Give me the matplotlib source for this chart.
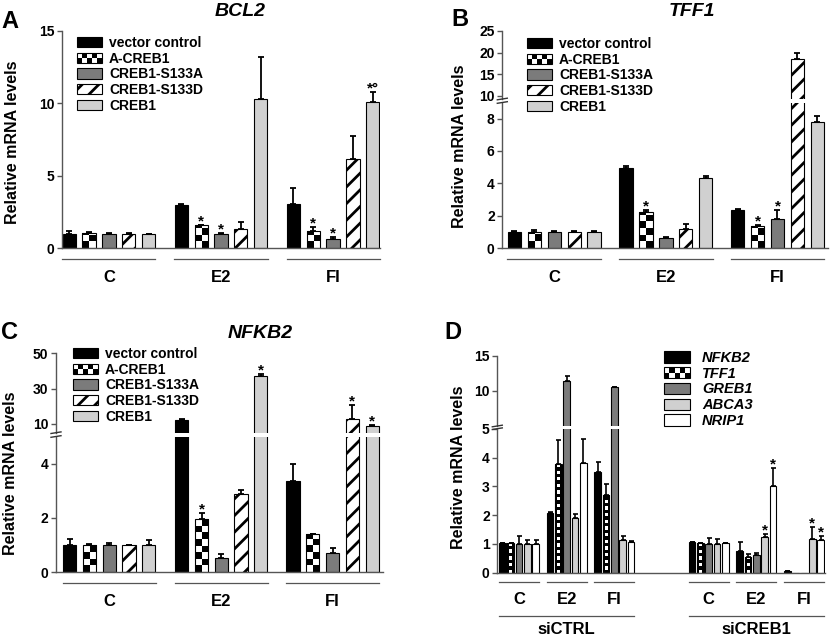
import numpy as np
import matplotlib
matplotlib.use("Agg")
import matplotlib.pyplot as plt
from matplotlib.patches import Patch, Rectangle
from matplotlib.lines import Line2D
from matplotlib.legend_handler import HandlerBase
from matplotlib.transforms import Bbox, TransformedBbox, blended_transform_factory

plt.rcParams['font.family'] = ['Liberation Sans', 'DejaVu Sans']
plt.rcParams['font.weight'] = 'bold'
plt.rcParams['hatch.linewidth'] = 2.0

# ---------------- data ----------------
groups = ['C', 'E2', 'FI']
constructs = ['vector control', 'A-CREB1', 'CREB1-S133A', 'CREB1-S133D', 'CREB1']

# rows = constructs, cols = C, E2, FI
bcl2_mean = [[0.99, 2.94, 3.06],
             [1.03, 1.56, 1.20],
             [0.97, 0.99, 0.60],
             [0.99, 1.33, 6.14],
             [0.97, 10.28, 10.08]]
bcl2_sem = [[0.16, 0.12, 1.08],
            [0.07, 0.02, 0.25],
            [0.06, 0.07, 0.14],
            [0.07, 0.44, 1.59],
            [0.00, 2.90, 0.69]]
bcl2_stars = [(1, 1, '*'), (2, 1, '*'), (1, 2, '*'), (2, 2, '*'), (4, 2, '*°')]

tff1_mean = [[0.99, 4.93, 2.35],
             [0.99, 2.23, 1.33],
             [0.99, 0.62, 1.78],
             [0.99, 1.18, 18.5],
             [0.99, 4.33, 7.80]]
tff1_sem = [[0.08, 0.14, 0.07],
            [0.14, 0.12, 0.07],
            [0.06, 0.04, 0.60],
            [0.06, 0.28, 1.50],
            [0.08, 0.12, 0.35]]
tff1_stars = [(1, 1, '*'), (1, 2, '*'), (2, 2, '*')]

nfkb2_mean = [[0.98, 12.0, 3.37],
              [1.01, 1.96, 1.41],
              [0.98, 0.52, 0.71],
              [0.98, 2.87, 12.8],
              [0.98, 37.4, 8.9]]
nfkb2_sem = [[0.24, 0.9, 0.63],
             [0.02, 0.23, 0.0],
             [0.09, 0.16, 0.18],
             [0.03, 0.16, 7.8],
             [0.19, 0.9, 0.7]]
nfkb2_stars = [(1, 1, '*'), (4, 1, '*'), (3, 2, '*'), (4, 2, '*')]

genes_d = ['NFKB2', 'TFF1', 'GREB1', 'ABCA3', 'NRIP1']
sirna = ['siCTRL', 'siCREB1']
# rows = genes, cols = C, E2, FI
d_ctrl_mean = [[1.03, 2.09, 3.49],
               [1.02, 3.78, 2.71],
               [1.00, 11.33, 10.5],
               [1.00, 1.90, 1.12],
               [1.00, 3.80, 1.07]]
d_ctrl_sem = [[0.00, 0.03, 0.36],
              [0.00, 0.82, 0.37],
              [0.28, 0.75, 0.08],
              [0.15, 0.13, 0.16],
              [0.13, 0.83, 0.03]]
d_creb_mean = [[1.06, 0.76, 0.07],
               [1.03, 0.53, 0.0],
               [1.00, 0.62, 0.0],
               [1.00, 1.23, 1.17],
               [1.02, 3.00, 1.12]]
d_creb_sem = [[0.00, 0.32, 0.0],
              [0.00, 0.11, 0.0],
              [0.20, 0.05, 0.0],
              [0.17, 0.12, 0.43],
              [0.00, 0.64, 0.16]]
# (group, gene, text) for siCREB1
d_stars = [(1, 3, '*'), (1, 4, '*'), (2, 3, '*'), (2, 4, '*')]

DARK = '#7b7b7b'
LIGHT = '#d0d0d0'
SPINE = '#555555'
construct_styles = [('solid', 'black'), ('checker', None), ('solid', DARK),
                    ('hatch', None), ('solid', LIGHT)]
gene_styles = [('solid', 'black'), ('checker', None), ('solid', DARK),
               ('solid', LIGHT), ('solid', 'white')]

W, H = 832, 635
fig = plt.figure(figsize=(W / 100, H / 100), dpi=100)


def px_axes(x0, x1, ytop, ybot):
    return fig.add_axes([x0 / W, 1 - ybot / H, (x1 - x0) / W, (ybot - ytop) / H])


def style(ax, yticks, xlim, ylim, bottom=True):
    ax.set_xlim(*xlim)
    ax.set_ylim(*ylim)
    for s in ['top', 'right']:
        ax.spines[s].set_visible(False)
    if not bottom:
        ax.spines['bottom'].set_visible(False)
    for s in ['left', 'bottom']:
        ax.spines[s].set_color(SPINE)
        ax.spines[s].set_linewidth(1.0)
    ax.set_xticks([])
    ax.set_yticks(yticks)
    ax.tick_params(axis='y', direction='out', length=3.5, width=1, color=SPINE,
                   labelsize=10, pad=2)


def add_checker(ax, bar, cell_px, ncols):
    x0, w, h = bar.get_x(), bar.get_width(), bar.get_height()
    y0, y1 = ax.get_ylim()
    lo, hi = max(0, y0), min(h, y1)
    if h <= 0 or hi <= lo:
        return
    ppu = ax.bbox.height / (y1 - y0)
    cell = cell_px / ppu
    nrows = int(np.ceil(h / cell))
    r = np.arange(nrows)[:, None]
    c = np.arange(ncols)[None, :]
    img = ((r + c) % 2).astype(float)
    if ncols == 3:
        img[:, 0] = 0
        img[:, 2] = 0
    im = ax.imshow(img, cmap='gray', vmin=0, vmax=1, aspect='auto',
                   extent=(x0, x0 + w, 0, nrows * cell),
                   interpolation='nearest', zorder=2.1)
    im.set_clip_path(None)
    im.set_clip_box(TransformedBbox(Bbox([[x0, lo], [x0 + w, hi]]), ax.transData))


def draw_bars(axes, xpos, means, sems, styles, width, cell_px, ncols, capsize, elw=1.3):
    for ax in axes:
        for i, (m, s, (kind, col)) in enumerate(zip(means, sems, styles)):
            x = xpos + i
            m = np.asarray(m, float)
            s = np.asarray(s, float)
            if kind == 'solid':
                ax.bar(x, m, width, color=col, edgecolor='black', linewidth=0.8, zorder=2)
            elif kind == 'hatch':
                ax.bar(x, m, width, color='white', edgecolor='black', hatch='//',
                       linewidth=0.8, zorder=2)
            else:
                bars = ax.bar(x, m, width, color='white', edgecolor='none', zorder=2)
                for b in bars:
                    add_checker(ax, b, cell_px, ncols)
                ax.bar(x, m, width, fill=False, edgecolor='black', linewidth=0.8, zorder=2.2)
            ok = m > 0
            ax.errorbar(x[ok], m[ok], yerr=[np.zeros(ok.sum()), s[ok]], fmt='none',
                        ecolor='black', elinewidth=elw, capsize=capsize, capthick=elw,
                        zorder=3)


def add_stars(lower, upper, xpos_of, means, sems, stars, fs=11):
    for item in stars:
        *idx, txt = item
        x, m, s = xpos_of(*idx), means(*idx), sems(*idx)
        top = m + s
        ax = upper if (upper is not None and top > lower.get_ylim()[1]) else lower
        ax.annotate(txt, (x, top), xytext=(0, -2.5), textcoords='offset points',
                    ha='center', va='bottom', fontsize=fs, fontweight='bold',
                    annotation_clip=False)


def group_axis(ax, starts, labels, y_line, y_text, lo=-0.35, hi=4.35, fs=12):
    trans = blended_transform_factory(ax.transData, fig.transFigure)
    for s, lab in zip(starts, labels):
        ax.plot([s + lo, s + hi], [1 - y_line / H] * 2, transform=trans,
                color=SPINE, lw=0.9, clip_on=False)
        ax.text(s + (lo + hi) / 2, 1 - y_text / H, lab, transform=trans,
                ha='center', va='center', fontsize=fs)


def break_marks(x, ys):
    for y in ys:
        fig.add_artist(Line2D([(x - 5) / W, (x + 5) / W], [1 - (y + 0.8) / H, 1 - (y - 0.8) / H],
                              color='#333333', lw=1.0))


class CheckerHandler(HandlerBase):
    def __init__(self, nc=5, nr=2):
        super().__init__()
        self.nc, self.nr = nc, nr

    def create_artists(self, legend, orig_handle, xdescent, ydescent, width, height,
                       fontsize, trans):
        arts = [Rectangle((-xdescent, -ydescent), width, height, fc='white', ec='none',
                          transform=trans)]
        cw, ch = width / self.nc, height / self.nr
        for r in range(self.nr):
            for c in range(self.nc):
                if (r + c) % 2 == 0:
                    arts.append(Rectangle((-xdescent + c * cw, -ydescent + r * ch), cw, ch,
                                          fc='black', ec='none', transform=trans))
        arts.append(Rectangle((-xdescent, -ydescent), width, height, fill=False,
                              ec='black', lw=0.8, transform=trans))
        return arts


def make_legend(ax, labels, styles, x, y, italic=False, pad=0.5, fs=10):
    handles = []
    hmap = {}
    for kind, col in styles:
        if kind == 'solid':
            h = Patch(fc=col, ec='black', lw=0.8)
        elif kind == 'hatch':
            h = Patch(fc='white', ec='black', hatch='//', lw=0.8)
        else:
            h = Patch(fc='white', ec='black')
            hmap[h] = CheckerHandler()
        handles.append(h)
    prop = {'weight': 'bold', 'size': fs}
    if italic:
        prop['style'] = 'italic'
    leg = ax.legend(handles, labels, loc='upper left', bbox_to_anchor=(x / W, 1 - y / H),
                    bbox_transform=fig.transFigure, frameon=False, borderpad=0,
                    borderaxespad=0, handlelength=1.8, handleheight=0.8,
                    labelspacing=0.12, handletextpad=pad, prop=prop, handler_map=hmap)
    return leg


# ---------------- panel A: BCL2 ----------------
offA = np.array([0, 5.66, 11.32])
axA = px_axes(62, 380, 31, 248)
style(axA, [0, 5, 10, 15], (-0.37, 15.69), (0, 15))
draw_bars([axA], offA, bcl2_mean, bcl2_sem, construct_styles, 0.67, 6.5, 2, 2.5)
add_stars(axA, None, lambda i, g: offA[g] + i, lambda i, g: bcl2_mean[i][g],
          lambda i, g: bcl2_sem[i][g], bcl2_stars)
group_axis(axA, offA, groups, 259, 278)
make_legend(axA, constructs, construct_styles, 77, 36)
fig.text(13 / W, 1 - 142 / H, 'Relative mRNA levels', rotation=90, ha='center',
         va='center', fontsize=11.5)
fig.text(240 / W, 1 - 12 / H, 'BCL2', ha='center', va='center', fontsize=14, style='italic')
fig.text(10 / W, 1 - 22 / H, 'A', ha='center', va='center', fontsize=17)

# ---------------- panel B: TFF1 ----------------
offB = np.array([0, 5.6, 11.2])
axB = px_axes(502.3, 828.3, 102.5, 248)
axBu = px_axes(502.3, 828.3, 31, 99)
style(axB, [0, 2, 4, 6, 8], (-0.61, 15.75), (0, 9))
style(axBu, [10, 15, 20, 25], (-0.61, 15.75), (9.3, 25), bottom=False)
draw_bars([axB, axBu], offB, tff1_mean, tff1_sem, construct_styles, 0.67, 6.5, 2, 2.5)
add_stars(axB, axBu, lambda i, g: offB[g] + i, lambda i, g: tff1_mean[i][g],
          lambda i, g: tff1_sem[i][g], tff1_stars)
group_axis(axB, offB, groups, 259, 278)
break_marks(502.3, [99, 102.5])
make_legend(axBu, constructs, construct_styles, 527, 37)
fig.text(460 / W, 1 - 146 / H, 'Relative mRNA levels', rotation=90, ha='center',
         va='center', fontsize=11.5)
fig.text(692 / W, 1 - 12 / H, 'TFF1', ha='center', va='center', fontsize=14, style='italic')
fig.text(460 / W, 1 - 19 / H, 'B', ha='center', va='center', fontsize=17)

# ---------------- panel C: NFKB2 ----------------
offC = np.array([0, 5.67, 11.3])
axC = px_axes(56, 383, 436.5, 572)
axCu = px_axes(56, 383, 353.3, 432.7)
style(axC, [0, 2, 4], (-0.69, 15.85), (0, 5))
style(axCu, [10, 30, 50], (-0.69, 15.85), (5.07, 50), bottom=False)
draw_bars([axC, axCu], offC, nfkb2_mean, nfkb2_sem, construct_styles, 0.67, 6.5, 2, 2.5)
add_stars(axC, axCu, lambda i, g: offC[g] + i, lambda i, g: nfkb2_mean[i][g],
          lambda i, g: nfkb2_sem[i][g], nfkb2_stars)
group_axis(axC, offC, groups, 583, 602)
break_marks(56, [432.7, 436.5])
make_legend(axCu, constructs, construct_styles, 73, 347)
fig.text(11 / W, 1 - 473 / H, 'Relative mRNA levels', rotation=90, ha='center',
         va='center', fontsize=11.5)
fig.text(260 / W, 1 - 333 / H, 'NFKB2', ha='center', va='center', fontsize=14, style='italic')
fig.text(10 / W, 1 - 332 / H, 'C', ha='center', va='center', fontsize=17)

# ---------------- panel D: siRNA ----------------
offD = np.array([0, 5.72, 11.44])
setD = np.array([0, 22.75])
axD = px_axes(497.3, 825, 428.7, 572.7)
axDu = px_axes(497.3, 825, 356, 426)
style(axD, [0, 1, 2, 3, 4, 5], (-0.62, 38.7), (0, 5))
style(axDu, [10, 15], (-0.62, 38.7), (4.91, 15), bottom=False)
for sidx, (mm, ss) in enumerate([(d_ctrl_mean, d_ctrl_sem), (d_creb_mean, d_creb_sem)]):
    draw_bars([axD, axDu], setD[sidx] + offD, mm, ss, gene_styles, 0.8, 3.3, 3, 1.8, elw=1.2)
    group_axis(axD, setD[sidx] + offD, groups, 582, 599, lo=-0.4, hi=4.4, fs=12)
add_stars(axD, axDu, lambda g, i: setD[1] + offD[g] + i, lambda g, i: d_creb_mean[i][g],
          lambda g, i: d_creb_sem[i][g], d_stars)
group_axis(axD, setD, sirna, 616, 629, lo=-0.4, hi=offD[2] + 4.4, fs=12)
break_marks(497.3, [426, 428.7])
make_legend(axDu, genes_d, gene_styles, 664, 351, italic=True, pad=0.8, fs=10.5)
fig.text(458 / W, 1 - 467 / H, 'Relative mRNA levels', rotation=90, ha='center',
         va='center', fontsize=11.5)
fig.text(453 / W, 1 - 332 / H, 'D', ha='center', va='center', fontsize=17)

fig.savefig('out.png', dpi=100)
